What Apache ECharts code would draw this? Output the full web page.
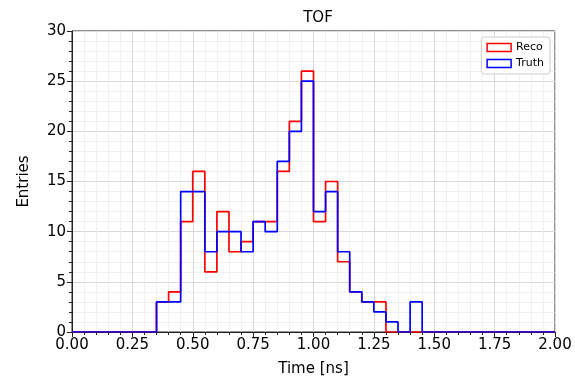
<!DOCTYPE html>
<html>
<head>
<meta charset="utf-8">
<script src="https://cdn.jsdelivr.net/npm/echarts@6/dist/echarts.min.js"></script>
<style>
  html, body { margin: 0; padding: 0; background: #fff; }
  #chart { width: 575px; height: 382px; }
</style>
</head>
<body>
<div id="chart"></div>
<script>
  // bin edges (ns), 40 bins of 0.05
  var binEdges = [0.00, 0.05, 0.10, 0.15, 0.20, 0.25, 0.30, 0.35, 0.40, 0.45,
                  0.50, 0.55, 0.60, 0.65, 0.70, 0.75, 0.80, 0.85, 0.90, 0.95,
                  1.00, 1.05, 1.10, 1.15, 1.20, 1.25, 1.30, 1.35, 1.40, 1.45,
                  1.50, 1.55, 1.60, 1.65, 1.70, 1.75, 1.80, 1.85, 1.90, 1.95, 2.00];
  var recoCounts = [0, 0, 0, 0, 0, 0, 0, 3, 4, 11,
                    16, 6, 12, 8, 9, 11, 11, 16, 21, 26,
                    11, 15, 7, 4, 3, 3, 0, 0, 0, 0,
                    0, 0, 0, 0, 0, 0, 0, 0, 0, 0];
  var truthCounts = [0, 0, 0, 0, 0, 0, 0, 3, 3, 14,
                     14, 8, 10, 10, 8, 11, 10, 17, 20, 25,
                     12, 14, 8, 4, 3, 2, 1, 0, 3, 0,
                     0, 0, 0, 0, 0, 0, 0, 0, 0, 0];

  // step outline like matplotlib histtype='step'
  function stepData(counts) {
    var d = [[binEdges[0], 0]];
    for (var i = 0; i < counts.length; i++) {
      d.push([binEdges[i], counts[i]]);
    }
    d.push([binEdges[binEdges.length - 1], counts[counts.length - 1]]);
    d.push([binEdges[binEdges.length - 1], 0]);
    return d;
  }

  var font = 'DejaVu Sans';
  var myChart = echarts.init(document.getElementById('chart'));
  var option = {
    animation: false,
    title: {
      text: 'TOF',
      left: 313,
      textAlign: 'center',
      top: 6,
      textStyle: { fontFamily: font, fontSize: 15, fontWeight: 'normal', color: '#000' }
    },
    legend: {
      right: 25,
      top: 37,
      orient: 'vertical',
      itemWidth: 24,
      itemHeight: 8,
      itemGap: 5,
      padding: [5, 6, 5, 5],
      backgroundColor: '#fff',
      borderColor: '#cccccc',
      borderWidth: 1,
      borderRadius: 3,
      textStyle: { fontFamily: font, fontSize: 11, color: '#000' },
      data: [
        { name: 'Reco', icon: 'rect', itemStyle: { color: 'transparent', borderColor: '#ff0000', borderWidth: 1.5 } },
        { name: 'Truth', icon: 'rect', itemStyle: { color: 'transparent', borderColor: '#0000ff', borderWidth: 1.5 } }
      ]
    },
    grid: {
      left: 72, right: 20, top: 31, bottom: 49,
      show: true,
      borderColor: '#222',
      borderWidth: 1
    },
    xAxis: {
      type: 'value',
      min: 0, max: 2, interval: 0.25,
      name: 'Time [ns]',
      nameLocation: 'middle',
      nameGap: 30,
      nameTextStyle: { fontFamily: font, fontSize: 15, color: '#000' },
      axisLine: { show: true, lineStyle: { color: '#222', width: 1 } },
      axisTick: { show: true, length: 5, lineStyle: { color: '#222' } },
      minorTick: { show: true, splitNumber: 5, length: 3, lineStyle: { color: '#222' } },
      axisLabel: {
        fontFamily: font, fontSize: 15, color: '#000', margin: 6,
        formatter: function (v) { return v.toFixed(2); }
      },
      splitLine: { show: true, lineStyle: { color: '#d9d9d9', width: 1 } },
      minorSplitLine: { show: true, lineStyle: { color: '#ececec', width: 0.8 } }
    },
    yAxis: {
      type: 'value',
      min: 0, max: 30, interval: 5,
      name: 'Entries',
      nameLocation: 'middle',
      nameGap: 40,
      nameTextStyle: { fontFamily: font, fontSize: 15, color: '#000' },
      axisLine: { show: true, lineStyle: { color: '#222', width: 1 } },
      axisTick: { show: true, length: 5, lineStyle: { color: '#222' } },
      minorTick: { show: true, splitNumber: 5, length: 3, lineStyle: { color: '#222' } },
      axisLabel: { fontFamily: font, fontSize: 15, color: '#000', margin: 6 },
      splitLine: { show: true, lineStyle: { color: '#d9d9d9', width: 1 } },
      minorSplitLine: { show: true, lineStyle: { color: '#ececec', width: 0.8 } }
    },
    series: [
      {
        name: 'Reco',
        type: 'line',
        step: 'end',
        symbol: 'none',
        silent: true,
        color: '#ff0000',
        lineStyle: { color: '#ff0000', width: 1.7 },
        data: stepData(recoCounts)
      },
      {
        name: 'Truth',
        type: 'line',
        step: 'end',
        symbol: 'none',
        silent: true,
        color: '#0000ff',
        lineStyle: { color: '#0000ff', width: 1.7 },
        data: stepData(truthCounts)
      }
    ]
  };
  myChart.setOption(option);
</script>
</body>
</html>
